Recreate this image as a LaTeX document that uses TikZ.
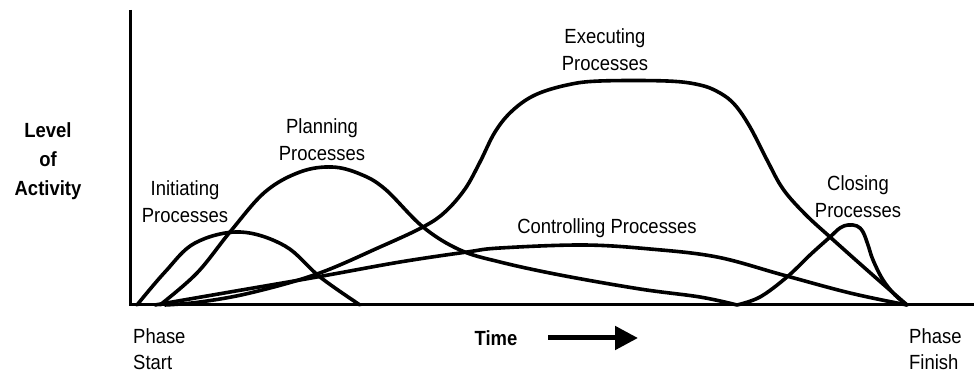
\documentclass[tikz,border=0pt]{standalone}
\usepackage{fontspec}
\setmainfont{Liberation Sans}[FakeStretch=0.9]
\usetikzlibrary{arrows.meta}
\tikzset{
  activity/.style={line width=3.6pt, line cap=round, line join=round},
  axisline/.style={line width=3pt},
  grouplbl/.style={align=center, inner sep=0pt, font=\fontsize{20.5}{27}\selectfont},
  boldlbl/.style={grouplbl, font=\fontsize{20.5}{29}\selectfont\bfseries},
}
\begin{document}
\begin{tikzpicture}[x=1pt,y=1pt]
\useasboundingbox (0,0) rectangle (974,377);

\draw[axisline] (130,367) -- (130,72) -- (974,72);

\draw[activity] plot[smooth,tension=0.6] coordinates {(137,72) (165,105) (195,134)
 (240,145) (285,131) (320,100) (360,72)};
\draw[activity] plot[smooth,tension=0.6] coordinates {(160,72) (197,104) (230,145)
 (265,185) (300,205) (332,210) (360,203) (385,188) (423,150) (460,127) (500,115)
 (560,102) (640,88) (700,80) (737,72)};
\draw[activity] plot[smooth,tension=0.6] coordinates {(165,72) (200,75) (250,84)
 (317,103) (380,130) (423,150) (445,165) (465,188) (480,215) (495,245) (512,266)
 (535,282) (567,292) (600,296) (667,296) (700,292) (720,284) (735,272) (750,250)
 (767,217) (783,188) (805,163) (830,140) (867,107) (907,72)};
\draw[activity] plot[smooth,tension=0.6] coordinates {(155,72) (230,85) (317,100)
 (400,115) (467,125) (500,129) (583,132) (650,128) (717,120) (783,102) (850,84)
 (907,72)};
\draw[activity] plot[smooth,tension=0.6] coordinates {(737,72) (760,80) (787,100)
 (810,122) (830,140) (840,149) (848,152) (857,151) (863,145) (868,132) (873,117)
 (883,97) (895,82) (907,72)};

\node[boldlbl] (level) at (48,216) {Level\\of\\Activity};
\node[grouplbl] (init) at (185,175) {Initiating\\Processes};
\node[grouplbl] (plan) at (322,237) {Planning\\Processes};
\node[grouplbl] (exec) at (605,327) {Executing\\Processes};
\node[grouplbl] (ctrl) at (607,149) {Controlling Processes};
\node[grouplbl] (close) at (858,180) {Closing\\Processes};

\node[grouplbl,align=left,anchor=west,font=\fontsize{20.5}{26}\selectfont] (start) at (133,28) {Phase\\Start};
\node[grouplbl,align=left,anchor=west,font=\fontsize{20.5}{26}\selectfont] (finish) at (909,28) {Phase\\Finish};

\node[boldlbl] (time) at (496,39) {Time};
\coordinate (timetail) at (548,39);
\coordinate (timehead) at (638,39);
\draw[line width=5pt,-{Triangle[length=23pt,width=23pt]}] (timetail) -- (timehead);
\end{tikzpicture}
\end{document}
